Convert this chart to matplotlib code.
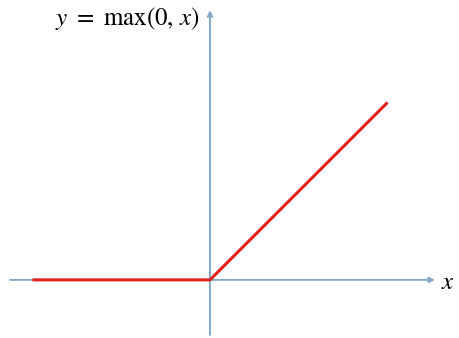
import matplotlib.pyplot as plt

plt.rcParams['mathtext.fontset'] = 'stix'

# ReLU data
relu_x = [-4, 0, 4]
relu_y = [max(0, v) for v in relu_x]

axis_color = "#86abca"
line_color = "#e0211f"

fig = plt.figure(figsize=(4.59, 3.38), dpi=100)
ax = fig.add_axes([0, 0, 1, 1])
ax.set_xlim(-4.73, 5.61)
ax.set_ylim(-1.31, 6.31)
ax.axis("off")

# axes with arrows
ax.annotate("", xy=(5.07, 0), xytext=(-4.5, 0),
            arrowprops=dict(arrowstyle="-|>", color=axis_color, lw=1.4,
                            mutation_scale=8, shrinkA=0, shrinkB=0))
ax.annotate("", xy=(0, 6.08), xytext=(0, -1.24),
            arrowprops=dict(arrowstyle="-|>", color=axis_color, lw=1.4,
                            mutation_scale=8, shrinkA=0, shrinkB=0))

ax.plot(relu_x, relu_y, color=line_color, lw=2.2, solid_capstyle="butt", zorder=3)

ax.text(-3.5, 5.9, r"$y\ =\ \mathrm{max}(0,\, x)$", fontsize=18, ha="left", va="center")
ax.text(5.35, -0.05, r"$x$", fontsize=18, ha="center", va="center")

fig.savefig("out.png", dpi=100)
